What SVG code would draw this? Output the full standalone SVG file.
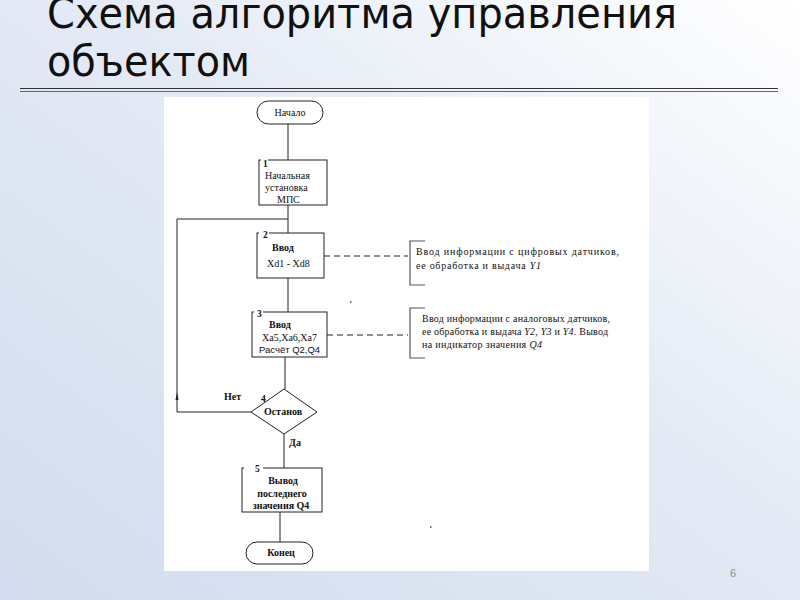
<svg xmlns="http://www.w3.org/2000/svg" width="800" height="600" viewBox="0 0 800 600">
<defs>
<linearGradient id="bg" x1="0" y1="1" x2="1" y2="0">
<stop offset="0" stop-color="#d2dcee"/>
<stop offset="0.55" stop-color="#e4eaf5"/>
<stop offset="1" stop-color="#ffffff"/>
</linearGradient>
<style>
.t{font-family:"Liberation Serif","Times New Roman",serif;font-size:10px;fill:#111}
.tb{font-family:"Liberation Serif","Times New Roman",serif;font-size:10px;fill:#111;font-weight:bold}
.ts{font-family:"Liberation Sans",Arial,sans-serif;font-size:9.5px;fill:#111}
.n{font-family:"Liberation Serif",serif;font-size:9.5px;fill:#111;font-weight:bold}
.s{fill:#fff;stroke:#222;stroke-width:1}
.c{fill:none;stroke:#222;stroke-width:1}
.d{fill:none;stroke:#222;stroke-width:1;stroke-dasharray:6,4}
.br{fill:none;stroke:#555;stroke-width:1.2}
.title{font-family:"DejaVu Sans",sans-serif;font-size:43px;fill:#111}
</style>
</defs>
<rect x="0" y="0" width="800" height="600" fill="url(#bg)"/>
<g id="title">
<text class="title" x="47" y="28" textLength="630" lengthAdjust="spacingAndGlyphs">Схема алгоритма управления</text>
<text class="title" x="47" y="76" textLength="203" lengthAdjust="spacingAndGlyphs">объектом</text>
<line x1="20" y1="88.5" x2="778" y2="88.5" stroke="#333" stroke-width="1"/>
<line x1="20" y1="91.5" x2="778" y2="91.5" stroke="#666" stroke-width="1"/>
</g>
<rect x="164" y="97" width="485" height="474" fill="#fff"/>
<g id="connectors">
<line class="c" x1="288" y1="124" x2="288" y2="160"/>
<line class="c" x1="288" y1="205" x2="288" y2="233"/>
<polyline class="c" points="251,412 177,412 177,219 288,219"/>
<path d="M175.5,400 L177,392 L178.5,400 Z" fill="#222"/>
<line class="c" x1="288" y1="278" x2="288" y2="312"/>
<line class="c" x1="285" y1="357" x2="285" y2="389"/>
<line class="c" x1="284" y1="434" x2="284" y2="468"/>
<line class="c" x1="280" y1="512" x2="280" y2="542"/>
<line class="d" x1="324" y1="256" x2="408" y2="256"/>
<line class="d" x1="327" y1="335" x2="408" y2="335"/>
</g>
<g id="start">
<rect class="s" x="257" y="101" width="66" height="23" rx="11.5"/>
<text class="t" x="290" y="115.5" text-anchor="middle">Начало</text>
</g>
<g id="node1">
<rect class="s" x="259" y="160" width="68" height="45"/>
<line x1="261" y1="160" x2="268" y2="160" stroke="#fff" stroke-width="2"/>
<text class="n" x="263" y="167">1</text>
<text class="t" x="265" y="179">Начальная</text>
<text class="t" x="265" y="191">установка</text>
<text class="t" x="277" y="203">МПС</text>
</g>
<g id="node2">
<rect class="s" x="257" y="233" width="67" height="45"/>
<line x1="259" y1="233" x2="269" y2="233" stroke="#fff" stroke-width="2"/>
<text class="n" x="263" y="238">2</text>
<text class="tb" x="272" y="251">Ввод</text>
<text class="t" x="267" y="267">Xd1 - Xd8</text>
</g>
<g id="node3">
<rect class="s" x="252" y="312" width="75" height="45"/>
<line x1="254" y1="312" x2="263" y2="312" stroke="#fff" stroke-width="2"/>
<text class="n" x="257" y="317">3</text>
<text class="tb" x="269" y="328">Ввод</text>
<text class="t" x="262" y="341">Xa5,Xa6,Xa7</text>
<text class="ts" x="259" y="353">Расчёт Q2,Q4</text>
</g>
<g id="node4">
<polygon class="s" points="284,389 317,412 284,434 251,412"/>
<text class="n" x="261" y="402">4</text>
<text class="tb" x="283" y="415" text-anchor="middle">Останов</text>
<text class="tb" x="224" y="400">Нет</text>
<text class="tb" x="289" y="446">Да</text>
</g>
<g id="node5">
<rect class="s" x="242" y="468" width="80" height="44"/>
<line x1="244" y1="468" x2="263" y2="468" stroke="#fff" stroke-width="2"/>
<text class="n" x="255" y="472">5</text>
<text class="tb" x="283" y="484" text-anchor="middle">Вывод</text>
<text class="tb" x="282" y="497" text-anchor="middle">последнего</text>
<text class="tb" x="281" y="509" text-anchor="middle">значения Q4</text>
</g>
<g id="end">
<rect class="s" x="246" y="542" width="67" height="22" rx="11"/>
<text class="tb" x="281" y="556" text-anchor="middle">Конец</text>
</g>
<g id="note1">
<polyline class="br" points="425,241 410,241 410,285 425,285"/>
<text class="t" x="416" y="255" textLength="203">Ввод информации с цифровых датчиков,</text>
<text class="t" x="416" y="269" textLength="125">ее обработка и выдача <tspan font-style="italic">Y1</tspan></text>
</g>
<g id="note2">
<polyline class="br" points="425,308 410,308 410,358 425,358"/>
<text class="t" x="422" y="322" font-size="9" textLength="188">Ввод информации с аналоговых датчиков,</text>
<text class="t" x="422" y="335" font-size="9" textLength="186">ее обработка и выдача <tspan font-style="italic">Y2, Y3</tspan> и <tspan font-style="italic">Y4</tspan>. Вывод</text>
<text class="t" x="422" y="348" font-size="9" textLength="120">на индикатор  значения <tspan font-style="italic">Q4</tspan></text>
</g>
<rect x="350" y="301" width="1.5" height="2" fill="#777"/>
<rect x="430" y="526" width="1.5" height="2" fill="#777"/>
<text x="733" y="577" font-family="Liberation Sans,Arial,sans-serif" font-size="11" fill="#8a8f99" text-anchor="middle">6</text>
</svg>
